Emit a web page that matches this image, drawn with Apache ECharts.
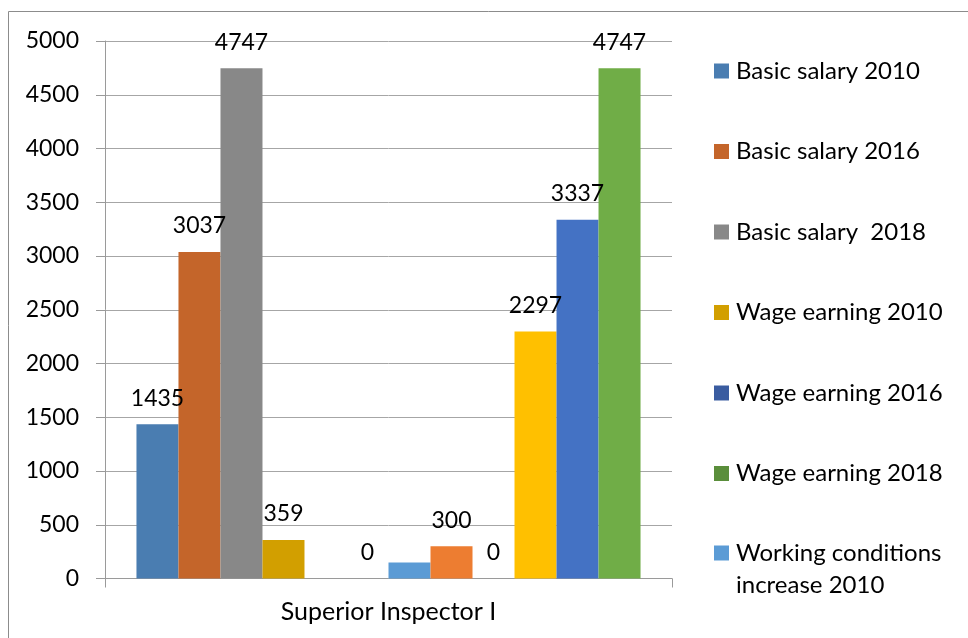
<!DOCTYPE html>
<html><head><meta charset="utf-8">
<script src="https://cdn.jsdelivr.net/npm/echarts@6/dist/echarts.min.js"></script>
<style>html,body{margin:0;padding:0;background:#fff}#c{width:968px;height:638px}</style>
</head><body><div id="c"></div><script>
const categories = ['Superior Inspector I'];
const seriesNames = [
  'Basic salary 2010', 'Basic salary 2016', 'Basic salary  2018',
  'Wage earning 2010', 'Wage earning 2016', 'Wage earning 2018',
  'Working conditions increase 2010', 'Working conditions increase 2016', 'Working conditions increase 2018',
  'Total 2010', 'Total 2016', 'Total 2018'
];
const seriesValues = [1435, 3037, 4747, 359, null, 0, 150, 300, 0, 2297, 3337, 4747];
const showLabel = [true, true, true, true, false, true, false, true, true, true, true, true];
const legendCount = 7;
const colors = ['#4A7DB1', '#C4652A', '#888888', '#D29F00', '#3A5CA0', '#5A8E3B',
                '#5B9BD5', '#ED7D31', '#A5A5A5', '#FFC000', '#4472C4', '#70AD47'];
const yMin = 0, yMax = 5000, yStep = 500;

const FONT = 'Lato';
const chart = echarts.init(document.getElementById('c'), null, {renderer: 'canvas'});
const series = seriesNames.map((n, i) => ({
  name: n, type: 'bar', data: [seriesValues[i]],
  itemStyle: {color: colors[i]},
  barGap: 0, barCategoryGap: '11.1%',
  label: {show: showLabel[i], position: 'top', distance: 14, fontSize: 23, lineHeight: 24,
          fontFamily: FONT, color: '#000'},
  emphasis: {disabled: true}
}));
const legendBase = {
  orient: 'vertical', left: 714, padding: 0,
  icon: 'rect', itemWidth: 15, itemHeight: 15, itemGap: 48.5,
  selectedMode: false
};
chart.setOption({
  animation: false,
  textStyle: {fontFamily: FONT},
  graphic: [{type: 'rect', shape: {x: 8.5, y: 11.5, width: 1200, height: 900},
             style: {fill: 'none', stroke: '#8c8c8c', lineWidth: 1}, silent: true}],
  grid: {left: 105, top: 41, width: 567, height: 537.5, containLabel: false},
  legend: [
    Object.assign({}, legendBase, {
      top: 55,
      data: seriesNames.slice(0, legendCount - 1),
      textStyle: {fontSize: 24, lineHeight: 32, fontFamily: FONT, color: '#000', padding: [0, 0, 0, 2]}
    }),
    Object.assign({}, legendBase, {
      top: 505,
      data: seriesNames.slice(legendCount - 1, legendCount),
      formatter: n => ' \n' + n.replace('conditions ', 'conditions\n'),
      textStyle: {fontSize: 24, lineHeight: 32, fontFamily: FONT, color: '#000', padding: [0, 0, 0, 2]}
    })
  ],
  xAxis: {
    type: 'category', data: categories,
    axisLine: {lineStyle: {color: '#9a9a9a', width: 1}},
    axisTick: {show: true, length: 9, lineStyle: {color: '#9a9a9a'}},
    axisLabel: {fontSize: 25, fontFamily: FONT, color: '#000', margin: 21}
  },
  yAxis: {
    type: 'value', min: yMin, max: yMax, interval: yStep,
    axisLine: {show: true, lineStyle: {color: '#9a9a9a', width: 1}},
    axisTick: {show: true, length: 9, lineStyle: {color: '#9a9a9a'}},
    splitLine: {show: true, lineStyle: {color: '#a6a6a6', width: 1}},
    axisLabel: {fontSize: 23, fontFamily: FONT, color: '#000', margin: 26, formatter: v => String(v)}
  },
  series: series
});
</script></body></html>
